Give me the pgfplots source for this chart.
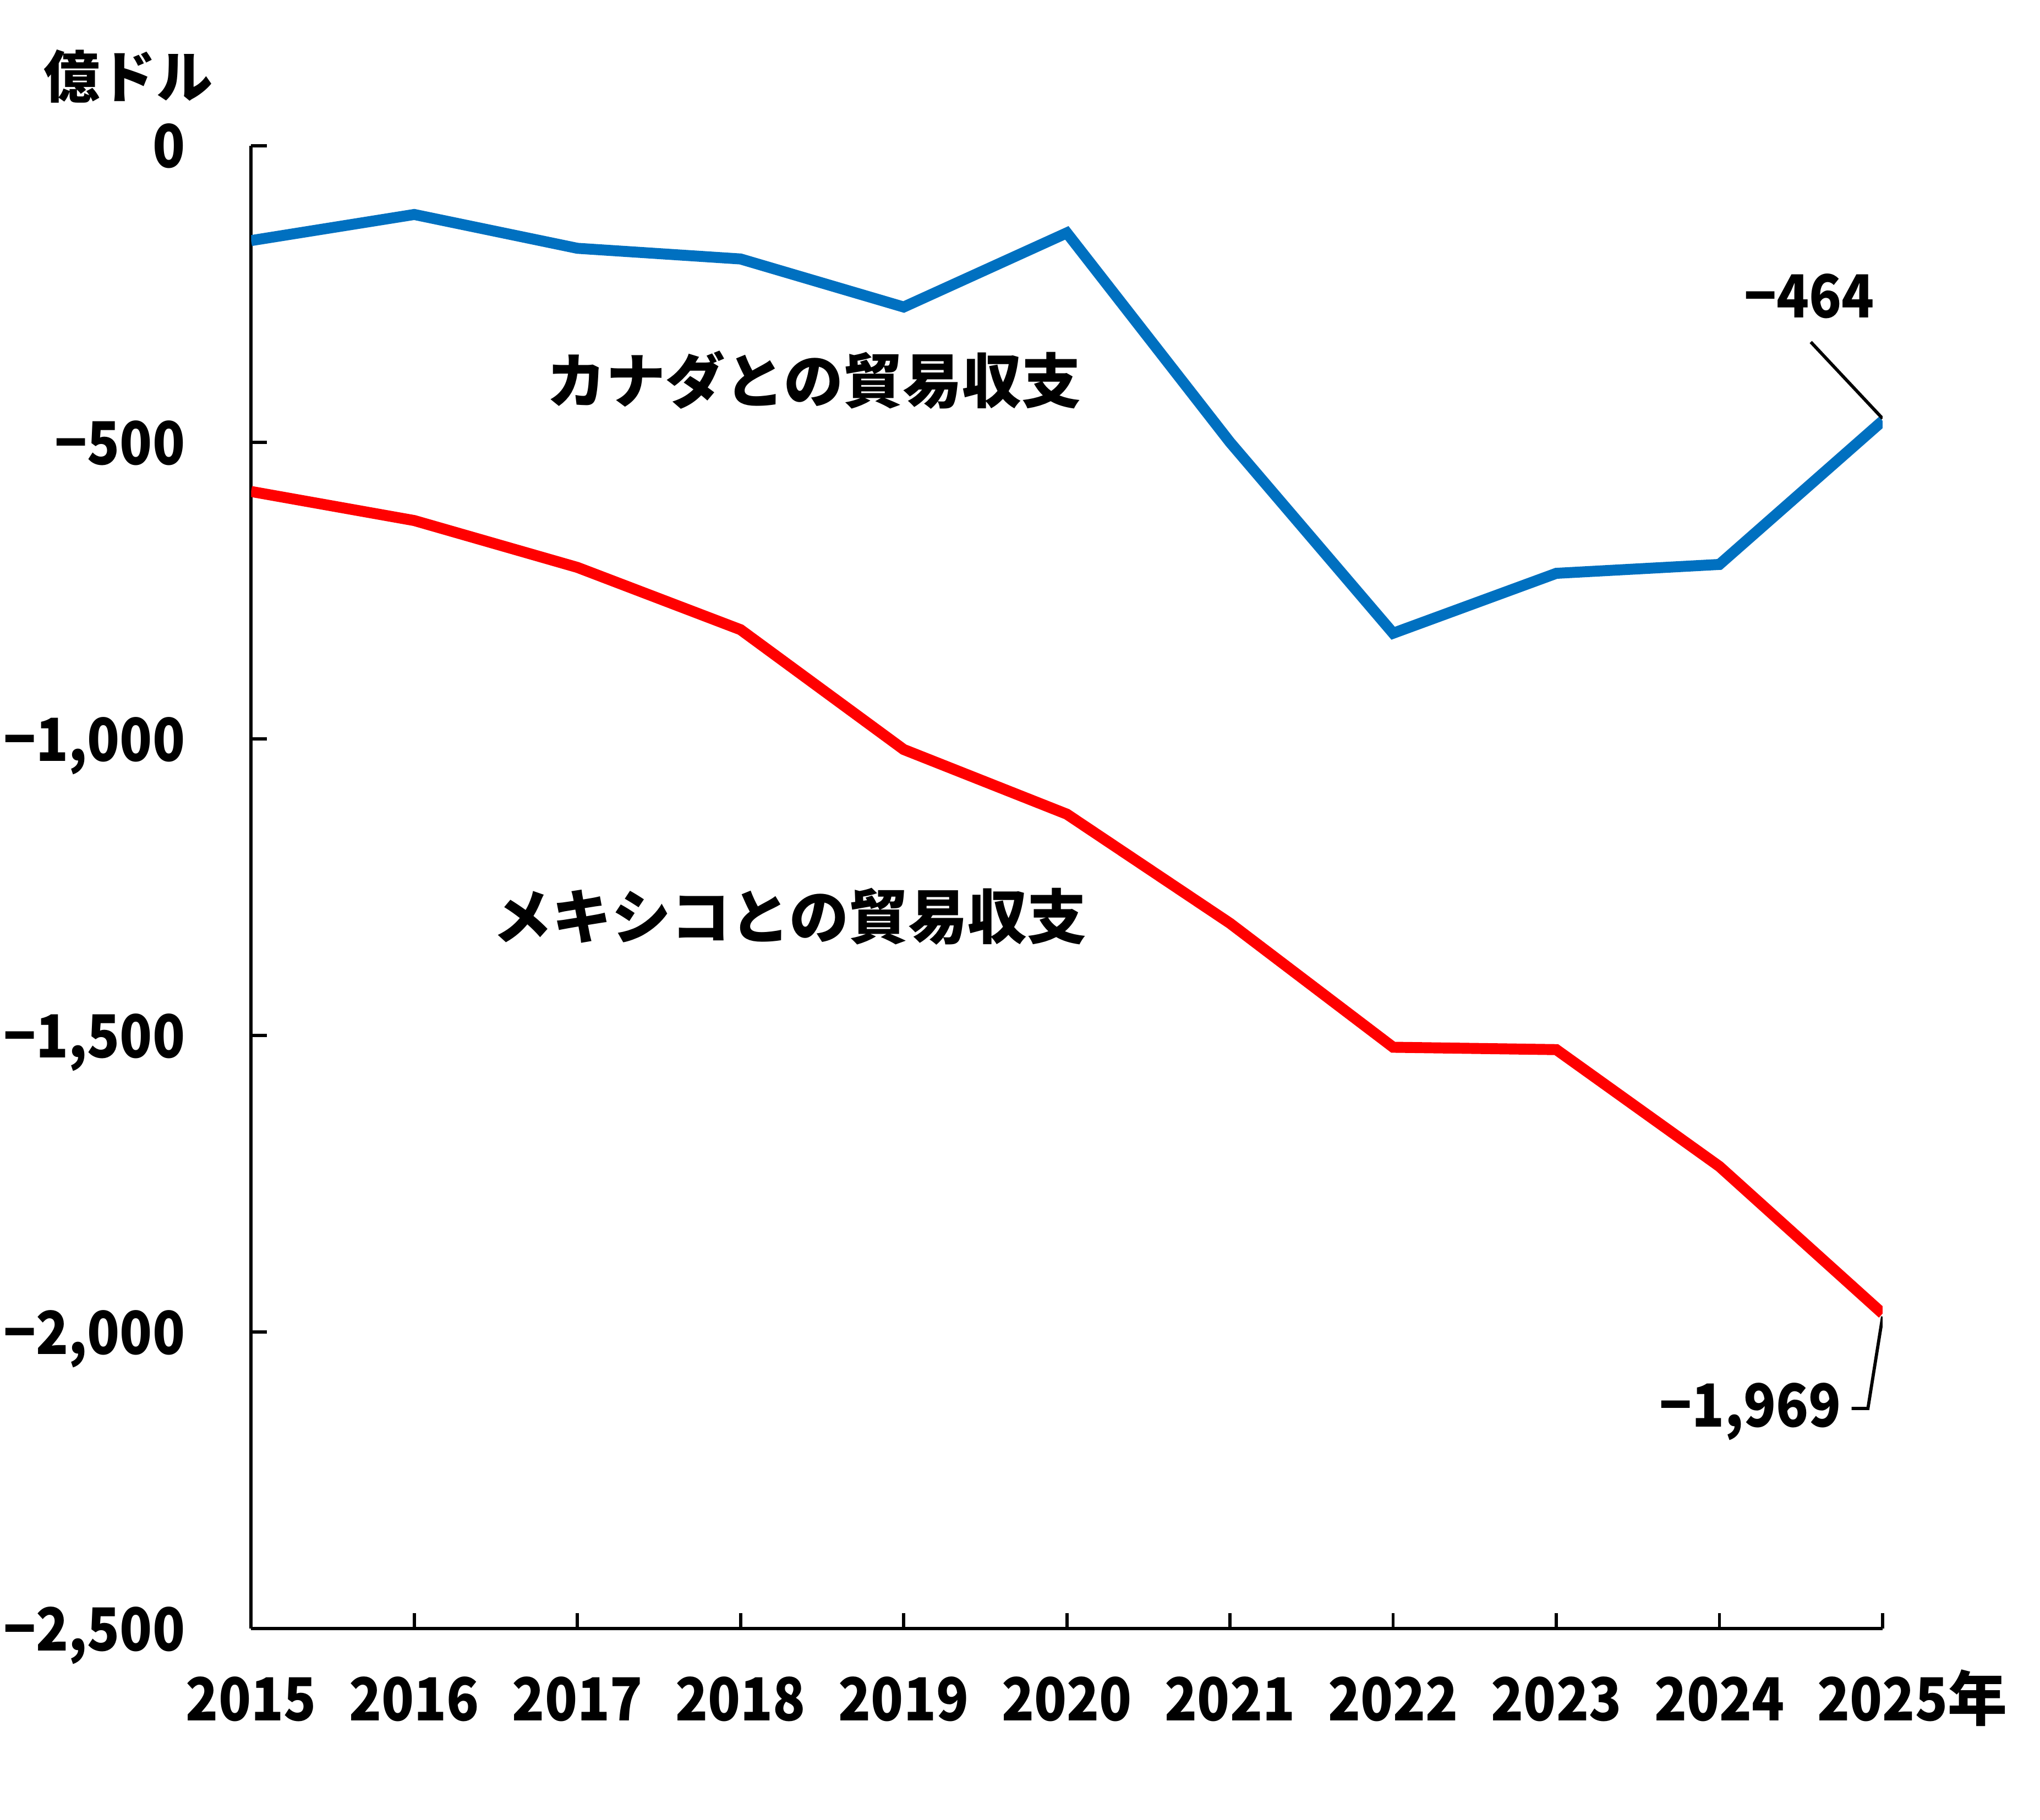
\documentclass[border=0pt]{standalone}
\usepackage{fontspec}
\setmainfont{Noto Sans CJK JP}
\newfontfamily\numfont{Noto Sans CJK JP}[FakeStretch=0.9]
\usepackage{pgfplots}
\pgfplotsset{compat=1.18}
\definecolor{cblue}{RGB}{0,112,192}
\definecolor{cred}{RGB}{255,0,0}
\begin{document}
\begin{tikzpicture}
\useasboundingbox (-1.93,-1.47) rectangle (13.75,12.52);
\begin{axis}[
  scale only axis,
  width=12.54cm, height=11.40cm,
  at={(0,0)}, anchor=south west,
  xmin=2015, xmax=2025,
  ymin=-2500, ymax=0,
  axis lines*=left,
  axis line style={line width=0.7pt},
  tick align=inside,
  major tick length=1.2mm,
  tick style={line width=0.7pt, black},
  xtick={2015,2016,2017,2018,2019,2020,2021,2022,2023,2024,2025},
  xticklabels={2015,2016,2017,2018,2019,2020,2021,2022,2023,2024,{2025\rlap{\fontsize{13}{15}\selectfont\rmfamily\bfseries 年}}},
  ytick={-2500,-2000,-1500,-1000,-500,0},
  yticklabels={{−2,500},{−2,000},{−1,500},{−1,000},{−500},{0}},
  xticklabel style={font=\fontsize{13}{15}\selectfont\numfont\bfseries, anchor=base, inner sep=0pt, yshift=-7.1mm},
  yticklabel style={font=\fontsize{13}{15}\selectfont\numfont\bfseries, anchor=base east, inner sep=0pt, xshift=-5.0mm, yshift=-1.7mm},
]
\addplot[cblue, line width=2.4pt] coordinates {
(2015,-160) (2016,-116) (2017,-173) (2018,-191) (2019,-272) (2020,-147)
(2021,-500) (2022,-822) (2023,-721) (2024,-706) (2025,-464)};
\addplot[cred, line width=2.4pt] coordinates {
(2015,-583) (2016,-632) (2017,-711) (2018,-816) (2019,-1018) (2020,-1127)
(2021,-1311) (2022,-1520) (2023,-1524) (2024,-1721) (2025,-1969)};
\node[font=\fontsize{13}{15}\selectfont\bfseries] at (axis cs:2018.45,-395) {カナダとの貿易収支};
\node[font=\fontsize{13}{15}\selectfont\bfseries] at (axis cs:2018.30,-1300) {メキシコとの貿易収支};
\node[font=\fontsize{13}{15}\selectfont\numfont\bfseries] at (axis cs:2024.55,-254) {−464};
\node[font=\fontsize{13}{15}\selectfont\numfont\bfseries] at (axis cs:2024.19,-2134) {−1,969};
\draw[line width=0.7pt] (axis cs:2024.56,-331) -- (axis cs:2025,-460);
\draw[line width=0.7pt] (axis cs:2024.81,-2129) -- (axis cs:2024.91,-2129) -- (axis cs:2025,-1974);
\end{axis}
\node[font=\fontsize{12.3}{14}\selectfont\bfseries, anchor=base west, inner sep=0pt] at (-1.60,11.77) {億ドル};
\end{tikzpicture}
\end{document}
